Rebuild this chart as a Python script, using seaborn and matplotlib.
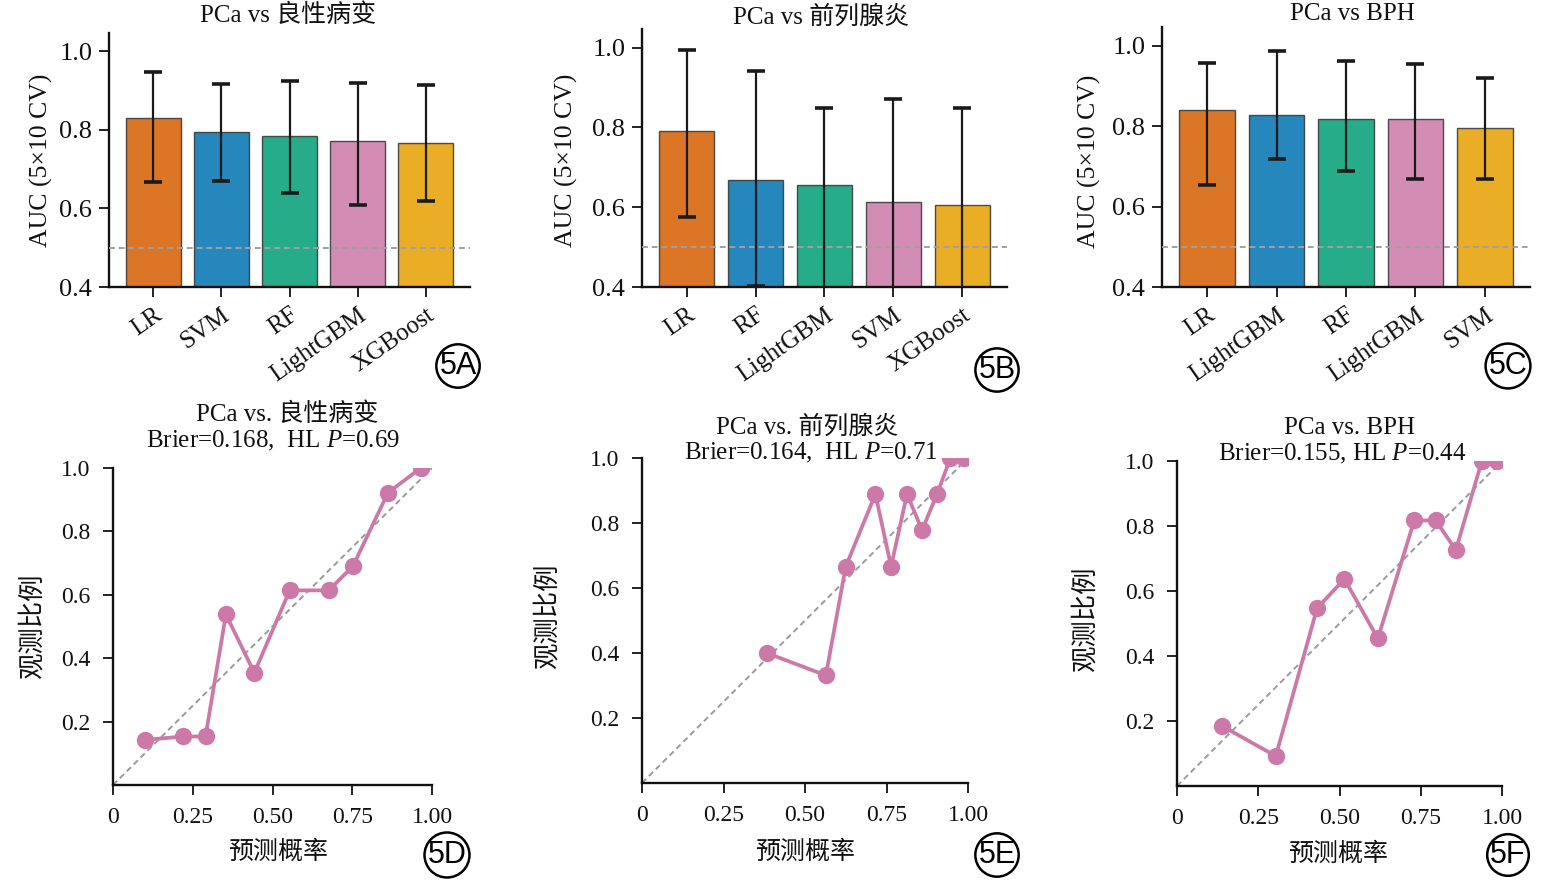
import numpy as np
import pandas as pd
import matplotlib
matplotlib.use("Agg")
import matplotlib.pyplot as plt
import seaborn as sns

sns.set_theme(style="ticks")
FAM = ["Liberation Serif", "Noto Sans CJK SC", "DejaVu Sans"]
plt.rcParams["font.family"] = FAM
plt.rcParams["mathtext.fontset"] = "custom"
plt.rcParams["mathtext.rm"] = "Liberation Serif"
plt.rcParams["mathtext.it"] = "Liberation Serif:italic"
plt.rcParams["axes.unicode_minus"] = False

# ---------------- data ----------------
auc_titles = ["PCa vs 良性病变", "PCa vs 前列腺炎", "PCa vs BPH"]
auc_ylabel = "AUC (5×10 CV)"

models_a = ["LR", "SVM", "RF", "LightGBM", "XGBoost"]
auc_a = [0.831, 0.794, 0.784, 0.773, 0.767]
low_a = [0.667, 0.669, 0.639, 0.608, 0.619]
high_a = [0.948, 0.917, 0.925, 0.919, 0.914]

models_b = ["LR", "RF", "LightGBM", "SVM", "XGBoost"]
auc_b = [0.790, 0.669, 0.655, 0.612, 0.606]
low_b = [0.576, 0.403, 0.380, 0.370, 0.360]
high_b = [0.995, 0.942, 0.848, 0.871, 0.849]

models_c = ["LR", "LightGBM", "RF", "LightGBM", "SVM"]
auc_c = [0.840, 0.829, 0.819, 0.819, 0.796]
low_c = [0.654, 0.719, 0.689, 0.669, 0.669]
high_c = [0.958, 0.987, 0.962, 0.955, 0.920]

bar_colors = ["#D55E00", "#0072B2", "#009E73", "#CC79A7", "#E69F00"]
auc_ticks = [0.4, 0.6, 0.8, 1.0]

cal_title1 = ["PCa vs. 良性病变", "PCa vs. 前列腺炎", "PCa vs. BPH"]
cal_title2 = ["Brier=0.168,  HL $\\mathit{P}$=0.69",
              "Brier=0.164,  HL $\\mathit{P}$=0.71",
              "Brier=0.155, HL $\\mathit{P}$=0.44"]
cal_xlabel = "预测概率"
cal_ylabel = "观测比例"

pred_d = [0.100, 0.218, 0.290, 0.354, 0.443, 0.554, 0.676, 0.752, 0.862, 0.965]
obs_d = [0.142, 0.153, 0.153, 0.538, 0.354, 0.614, 0.614, 0.690, 0.922, 1.000]
pred_e = [0.383, 0.564, 0.625, 0.716, 0.764, 0.813, 0.859, 0.905, 0.946, 0.987]
obs_e = [0.400, 0.331, 0.666, 0.889, 0.666, 0.889, 0.778, 0.889, 1.000, 1.000]
pred_f = [0.138, 0.304, 0.431, 0.515, 0.618, 0.730, 0.796, 0.858, 0.938, 0.985]
obs_f = [0.185, 0.092, 0.547, 0.637, 0.454, 0.817, 0.817, 0.726, 1.000, 1.000]

cal_xticks = [0, 0.25, 0.5, 0.75, 1.0]
cal_xticklabels = ["0", "0.25", "0.50", "0.75", "1.00"]
cal_yticks = [0.2, 0.4, 0.6, 0.8, 1.0]
line_color = "#CC79A7"

panel_tags = ["5A", "5B", "5C", "5D", "5E", "5F"]

# ---------------- layout ----------------
W, H = 1541, 880
fig = plt.figure(figsize=(W / 100, H / 100), dpi=100)


def rect(l, r, t, b):
    return [l / W, 1 - b / H, (r - l) / W, (b - t) / H]


def fx(x):
    return x / W


def fy(y):
    return 1 - y / H


bar_rects = [rect(109, 470, 33, 287), rect(642, 1007, 29, 287), rect(1162, 1530, 27, 287)]
cal_rects = [rect(113, 432, 468, 785), rect(642, 968, 458, 783), rect(1177, 1502, 461, 786)]

bar_sets = [(models_a, auc_a, low_a, high_a),
            (models_b, auc_b, low_b, high_b),
            (models_c, auc_c, low_c, high_c)]
bar_title_pos = [(288, 15), (821, 17), (1352, 14)]
bar_ylab_pos = [(41, 160), (566, 160), (1089, 161)]

for i, (rc, (models, auc, low, high)) in enumerate(zip(bar_rects, bar_sets)):
    ax = fig.add_axes(rc)
    keys = [str(k) for k in range(len(models))]
    df = pd.DataFrame({"slot": keys, "auc": auc})
    sns.barplot(data=df, x="slot", y="auc", hue="slot", order=keys, hue_order=keys,
                palette=bar_colors, legend=False, alpha=0.85, saturation=1,
                edgecolor="#333333", linewidth=1.0, width=0.8, errorbar=None, ax=ax)
    auc_arr = np.array(auc)
    yerr = [auc_arr - np.array(low), np.array(high) - auc_arr]
    ax.errorbar(np.arange(len(models)), auc_arr, yerr=yerr, fmt="none",
                ecolor="#1a1a1a", elinewidth=1.6, capsize=6.5, capthick=2.6, zorder=4)
    ax.axhline(0.5, ls="--", color="#a0a0a0", lw=1.4, zorder=3, dashes=(3, 2))
    ax.set_xlim(-0.65, 4.65)
    ax.set_ylim(0.4, 1.047)
    ax.set_yticks(auc_ticks)
    ax.set_yticklabels([f"{t:.1f}" for t in auc_ticks])
    ax.set_xticks(range(len(models)))
    ax.set_xticklabels(models, rotation=35, ha="right", rotation_mode="anchor")
    ax.tick_params(axis="y", labelsize=19, width=1.3, length=7, colors="#111111", pad=5)
    ax.tick_params(axis="x", labelsize=18, width=1.3, length=7, colors="#111111", pad=5)
    for lab in ax.get_xticklabels() + ax.get_yticklabels():
        lab.set_family(FAM)
    sns.despine(ax=ax)
    for s in ["left", "bottom"]:
        ax.spines[s].set_linewidth(1.7)
        ax.spines[s].set_color("#111111")
    ax.set_xlabel("")
    ax.set_ylabel(auc_ylabel, fontsize=18.5, family=FAM, color="#111111")
    ax.yaxis.label.set_va("center")
    ax.yaxis.set_label_coords(fx(bar_ylab_pos[i][0]), fy(bar_ylab_pos[i][1]),
                              transform=fig.transFigure)
    fig.text(fx(bar_title_pos[i][0]), fy(bar_title_pos[i][1]), auc_titles[i],
             ha="center", va="center", fontsize=18, family=FAM, color="#111111")

cal_sets = [(pred_d, obs_d), (pred_e, obs_e), (pred_f, obs_f)]
cal_t1_pos = [(287, 414), (807, 427), (1350, 428)]
cal_t2_pos = [(273, 441), (811, 453), (1342, 454)]
cal_ylab_pos = [(32, 626), (547, 616), (1085, 619)]
cal_xlab_pos = [(278, 852), (805, 852), (1338, 854)]

for i, (rc, (pred, obs)) in enumerate(zip(cal_rects, cal_sets)):
    ax = fig.add_axes(rc)
    ax.plot([0, 1], [0, 1], ls="--", color="#9a9a9a", lw=1.4, dashes=(3, 2), zorder=1)
    dfc = pd.DataFrame({"pred": pred, "obs": obs})
    sns.lineplot(data=dfc, x="pred", y="obs", sort=False, estimator=None,
                 color=line_color, linewidth=2.7, marker="o", markersize=12.5,
                 markeredgewidth=0, ax=ax, zorder=3)
    ax.set_xlim(0, 1)
    ax.set_ylim(0, 1)
    ax.set_xticks(cal_xticks)
    ax.set_xticklabels(cal_xticklabels)
    ax.set_yticks(cal_yticks)
    ax.set_yticklabels([f"{t:.1f}" for t in cal_yticks])
    ax.tick_params(axis="both", labelsize=17, width=1.3, length=7, colors="#111111")
    ax.tick_params(axis="y", pad=9)
    ax.tick_params(axis="x", pad=9)
    for lab in ax.get_xticklabels() + ax.get_yticklabels():
        lab.set_family(FAM)
    sns.despine(ax=ax)
    for s in ["left", "bottom"]:
        ax.spines[s].set_linewidth(1.7)
        ax.spines[s].set_color("#111111")
    ax.set_xlabel(cal_xlabel, fontsize=18, family=FAM, color="#111111")
    ax.xaxis.label.set_va("center")
    ax.xaxis.set_label_coords(fx(cal_xlab_pos[i][0]), fy(cal_xlab_pos[i][1]),
                              transform=fig.transFigure)
    ax.set_ylabel(cal_ylabel, fontsize=19, family=FAM, color="#111111")
    ax.yaxis.label.set_va("center")
    ax.yaxis.set_label_coords(fx(cal_ylab_pos[i][0]), fy(cal_ylab_pos[i][1]),
                              transform=fig.transFigure)
    fig.text(fx(cal_t1_pos[i][0]), fy(cal_t1_pos[i][1]), cal_title1[i],
             ha="center", va="center", fontsize=18, family=FAM, color="#111111")
    fig.text(fx(cal_t2_pos[i][0]), fy(cal_t2_pos[i][1]), cal_title2[i],
             ha="center", va="center", fontsize=18, family=FAM, color="#111111")

tag_pos = [(458, 366), (997, 370), (1508, 366), (447, 855), (997, 855), (1508, 855)]
for tag, (x, y) in zip(panel_tags, tag_pos):
    fig.text(fx(x), fy(y), tag, ha="center", va="center", fontsize=22,
             family=["Liberation Sans", "DejaVu Sans"], color="black",
             bbox=dict(boxstyle="circle,pad=0.1", fc="white", ec="black", lw=1.8))

fig.savefig("out.png", dpi=100, facecolor="white")
